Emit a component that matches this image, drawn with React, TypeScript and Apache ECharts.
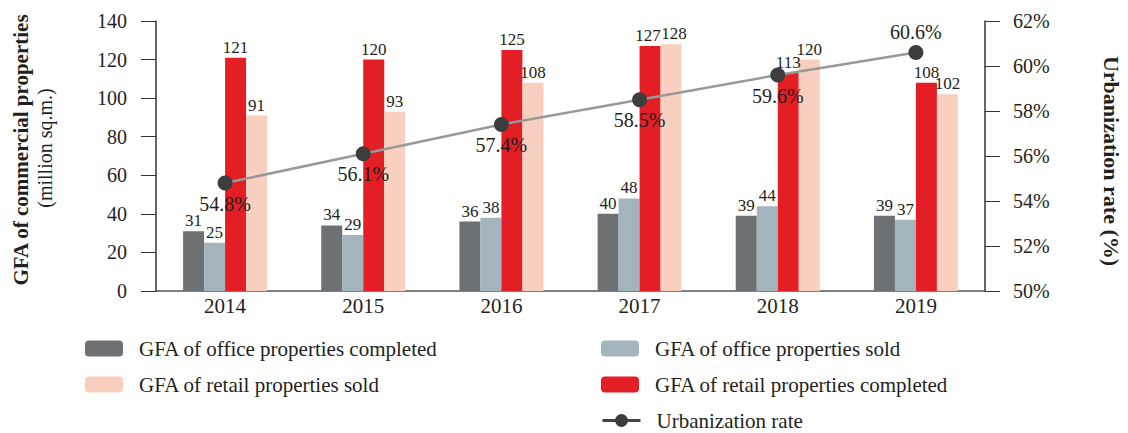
import React, { useEffect, useRef } from "react";
import * as echarts from "echarts";

const years = ["2014", "2015", "2016", "2017", "2018", "2019"];
const officeCompleted = [31, 34, 36, 40, 39, 39];
const officeSold = [25, 29, 38, 48, 44, 37];
const retailCompleted = [121, 120, 125, 127, 113, 108];
const retailSold = [91, 93, 108, 128, 120, 102];
const urbanization = [54.8, 56.1, 57.4, 58.5, 59.6, 60.6];
const urbanLabelPos = ["bottom", "bottom", "bottom", "bottom", "bottom", "top"];
// small horizontal nudges so adjacent labels (2017) do not collide
const retailCompletedNudge = [0, 0, 0, -2, 0, 0];
const retailSoldNudge = [0, 0, 0, 3, 0, 0];

const S_OC = "GFA of office properties completed";
const S_OS = "GFA of office properties sold";
const S_RC = "GFA of retail properties completed";
const S_RS = "GFA of retail properties sold";
const S_UR = "Urbanization rate";

const FONT = "'Liberation Serif', 'Times New Roman', serif";
const TXT = "#231f20";

export default function App() {
  const ref = useRef<HTMLDivElement>(null);
  useEffect(() => {
    if (!ref.current) return;
    const chart = echarts.init(ref.current, undefined, { renderer: "svg" });
    const barLabel = { show: true, position: "top", color: TXT, fontSize: 17, fontFamily: FONT, distance: 2 };
    const legendText = { color: TXT, fontSize: 21, fontFamily: FONT, padding: [0, 0, 0, 11] };
    const mkLegend = (name: string, left: number, cy: number, extra: any = {}) => ({
      left, top: cy - 11, itemWidth: 38, itemHeight: 16, padding: 0,
      textStyle: legendText, data: [name], ...extra,
    });
    const nudged = (vals: number[], nudge: number[]) =>
      vals.map((v, i) => ({ value: v, label: { offset: [nudge[i], 0] } }));
    chart.setOption({
      animation: false,
      textStyle: { fontFamily: FONT },
      grid: { left: 156, right: 143, top: 21, bottom: 142 },
      legend: [
        mkLegend(S_OC, 85, 349),
        mkLegend(S_RS, 85, 385),
        mkLegend(S_OS, 601, 349),
        mkLegend(S_RC, 601, 385),
        mkLegend(S_UR, 601, 421, { lineStyle: { color: "#444", width: 3 }, itemStyle: { color: "#3d3d3d" } }),
      ],
      xAxis: {
        type: "category", data: years,
        axisLine: { lineStyle: { color: "#555", width: 1.5 } },
        axisTick: { show: false },
        axisLabel: { color: TXT, fontSize: 21, fontFamily: FONT, margin: 4 },
      },
      yAxis: [
        {
          type: "value", min: 0, max: 140, interval: 20,
          axisLine: { show: true, lineStyle: { color: "#333", width: 1.5 } },
          axisTick: { show: true, length: 15, lineStyle: { color: "#333" } },
          splitLine: { show: false },
          axisLabel: { color: TXT, fontSize: 20, fontFamily: FONT, margin: 29 },
        },
        {
          type: "value", min: 50, max: 62, interval: 2, position: "right",
          axisLine: { show: true, lineStyle: { color: "#333", width: 1.5 } },
          axisTick: { show: true, length: 15, lineStyle: { color: "#333" } },
          splitLine: { show: false },
          axisLabel: { color: TXT, fontSize: 20, fontFamily: FONT, margin: 28, formatter: "{value}%" },
        },
      ],
      series: [
        { name: S_OC, type: "bar", data: officeCompleted, barWidth: 21, barGap: "0%",
          itemStyle: { color: "#6d7174" }, label: barLabel },
        { name: S_OS, type: "bar", data: officeSold, barWidth: 21, barGap: "0%",
          itemStyle: { color: "#a4b4bd" }, label: barLabel },
        { name: S_RC, type: "bar", data: nudged(retailCompleted, retailCompletedNudge), barWidth: 21, barGap: "0%",
          itemStyle: { color: "#e31e25" }, label: barLabel },
        { name: S_RS, type: "bar", data: nudged(retailSold, retailSoldNudge), barWidth: 21, barGap: "0%",
          itemStyle: { color: "#f9cfc0" }, label: barLabel },
        {
          name: S_UR, type: "line", yAxisIndex: 1,
          data: urbanization.map((v, i) => ({ value: v, label: { position: urbanLabelPos[i] } })),
          symbol: "circle", symbolSize: 15,
          lineStyle: { color: "#999", width: 2.5 },
          itemStyle: { color: "#3d3d3d" },
          label: { show: true, color: TXT, fontSize: 20, fontFamily: FONT, formatter: "{c}%", distance: 3 },
          z: 10,
        },
      ],
      graphic: [
        {
          type: "text", x: 21, y: 150, rotation: Math.PI / 2,
          style: { text: "GFA of commercial properties", font: `bold 21px ${FONT}`, fill: TXT,
            align: "center", verticalAlign: "middle" },
        },
        {
          type: "text", x: 45, y: 148, rotation: Math.PI / 2,
          style: { text: "(million sq.m.)", font: `20px ${FONT}`, fill: TXT,
            align: "center", verticalAlign: "middle" },
        },
        {
          type: "text", x: 1111, y: 161, rotation: -Math.PI / 2,
          style: { text: "Urbanization rate (%)", font: `bold 22px ${FONT}`, fill: TXT,
            align: "center", verticalAlign: "middle" },
        },
      ],
    });
    return () => chart.dispose();
  }, []);
  return <div ref={ref} style={{ width: 1128, height: 433, position: "absolute", left: 0, top: 0 }} />;
}
